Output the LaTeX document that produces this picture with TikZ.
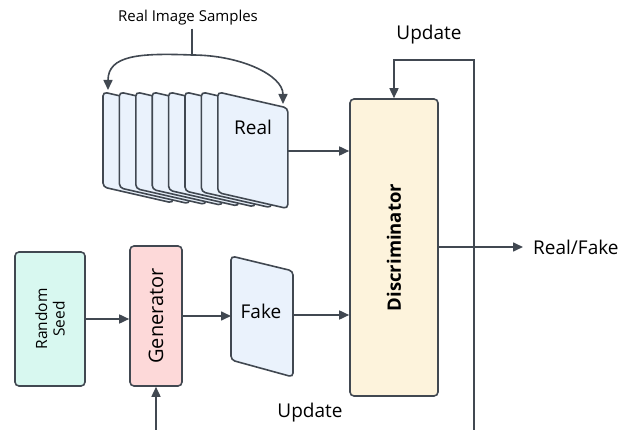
\documentclass[tikz,border=0pt]{standalone}
\usepackage{fontspec}
\setmainfont{Open Sans}
\usetikzlibrary{arrows.meta}
\definecolor{ink}{HTML}{414851}
\definecolor{discfill}{HTML}{FDF3DC}
\definecolor{seedfill}{HTML}{D8F8F0}
\definecolor{genfill}{HTML}{FDD9D9}
\definecolor{cardfill}{HTML}{EAF2FC}
\tikzset{
  box/.style={draw=ink, line width=1.6pt, rounded corners=4pt, inner sep=0pt},
  card/.style={draw=ink, line width=1.6pt, rounded corners=4pt, fill=cardfill},
  arr/.style={draw=ink, line width=1.6pt, -{Triangle[length=10pt,width=9pt]}},
  plain/.style={draw=ink, line width=1.6pt},
  lbl/.style={font=\fontsize{19}{22}\selectfont, text=black, inner sep=0pt},
}
\begin{document}
\begin{tikzpicture}[x=1pt,y=-1pt]
\useasboundingbox (0,0) rectangle (624,430);
% real image stack
\foreach \i in {0,...,7}{
  \pgfmathsetmacro{\xa}{103+16.4*\i}
  \pgfmathsetmacro{\xb}{\xa+70}
  \pgfmathsetmacro{\yb}{187+0.8*\i}
  \pgfmathsetmacro{\yc}{\yb+16}
  \path[card] (\xa,92) -- (\xb,108) -- (\xb,\yc) -- (\xa,\yb) -- cycle;
}
\node[lbl] (real) at (253,127) {Real};
\coordinate (realout) at (287,151);
% real image samples label and brace arrows
\node[lbl, font=\fontsize{15}{18}\selectfont] (ris) at (188,18) {Real Image Samples};
\coordinate (stem) at (192,55);
\draw[plain] (ris.south) ++(4,3) -- (stem);
\draw[arr] (stem) .. controls (140,53) and (108,55) .. (108,90);
\draw[arr] (stem) .. controls (240,55) and (283,75) .. (283,104);
% discriminator
\node[box, fill=discfill, minimum width=88pt, minimum height=297pt] (disc) at (394,247.5) {};
\node[lbl, rotate=90, font=\fontsize{18.5}{22}\selectfont\bfseries] (disctext) at (disc.center) {Discriminator};
% random seed
\node[box, fill=seedfill, minimum width=70pt, minimum height=134pt] (seed) at (50,319) {};
\node[lbl, rotate=90, align=center, font=\fontsize{15.5}{17.5}\selectfont] (seedtext) at (seed.center) {Random\\Seed};
% generator
\node[box, fill=genfill, minimum width=52pt, minimum height=140pt] (gen) at (156,316) {};
\node[lbl, rotate=90, font=\fontsize{20}{22}\selectfont] (gentext) at (gen.center) {Generator};
% fake
\path[card] (231,256) -- (293,271) -- (293,377) -- (231,360) -- cycle;
\node[lbl] (fake) at (261,311) {Fake};
\coordinate (fakein) at (231,316);
\coordinate (fakeout) at (293,315);
% connectors
\draw[arr] (realout) -- (disc.west |- realout);
\draw[arr] (fakeout) -- (disc.west |- fakeout);
\draw[arr] (seed.east) -- (gen.west |- seed.east);
\draw[arr] (gen.east |- fakein) -- (fakein);
\coordinate (rfend) at (523,247);
\draw[arr] (disc.east |- rfend) -- (rfend);
\node[lbl, anchor=west] (rf) at (533,247) {Real/Fake};
% feedback loops
\coordinate (fbtop) at (474,432);
\coordinate (fbcorner) at (474,60);
\draw[arr] (fbtop) -- (fbcorner) -| (disc.north);
\node[lbl] (updtop) at (429,35) {Update};
\coordinate (fbbot) at (156,432);
\draw[arr] (fbbot) -- (gen.south);
\node[lbl] (updbot) at (310,413) {Update};
\end{tikzpicture}
\end{document}
